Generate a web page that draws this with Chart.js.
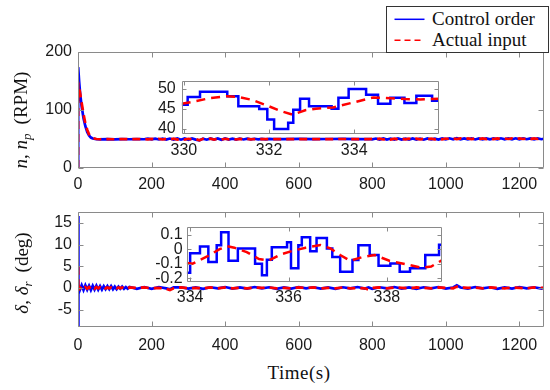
<!DOCTYPE html>
<html>
<head>
<meta charset="utf-8">
<script src="https://cdn.jsdelivr.net/npm/chart.js@4.4.1/dist/chart.umd.min.js"></script>
<style>
  body { margin: 0; background: #fff; }
  #wrap { position: relative; width: 550px; height: 390px; overflow: hidden; }
  canvas { position: absolute; }
  .ylab { position: absolute; white-space: nowrap; font: 19px 'Liberation Serif', 'Times New Roman', serif; color: #111;
          transform: translate(-50%, -50%) rotate(-90deg); }
  .ylab sub { font-size: 13px; vertical-align: -4px; line-height: 0; }
  .ylab .gap { display: inline-block; width: 9px; }
  #xlab { position: absolute; left: 299px; top: 373px; transform: translate(-50%, -50%);
          font: 19px 'Liberation Serif', 'Times New Roman', serif; color: #111; white-space: nowrap; letter-spacing: 0.5px; }
  #legend { position: absolute; left: 386px; top: 6px; width: 161px; height: 45px; border: 1px solid #333;
            background: #fff; font: 19px 'Liberation Serif', 'Times New Roman', serif; color: #111; }
  #legend span { position: absolute; left: 45px; line-height: 20px; white-space: nowrap; }
</style>
</head>
<body>
<div id="wrap">
  <canvas id="topMain" width="550" height="195" style="left:0;top:0"></canvas>
  <canvas id="botMain" width="550" height="165" style="left:0;top:195px"></canvas>
  <canvas id="topInset" width="310" height="95" style="left:140px;top:65px"></canvas>
  <canvas id="botInset" width="315" height="100" style="left:140px;top:213px"></canvas>

  <div id="legend">
    <svg width="161" height="45" style="position:absolute;left:0;top:0">
      <line x1="7.5" y1="12.3" x2="37.5" y2="12.3" stroke="#0000ff" stroke-width="1.5"/>
      <line x1="7.5" y1="33.3" x2="37.5" y2="33.3" stroke="#ff0000" stroke-width="1.5" stroke-dasharray="6,4"/>
    </svg>
    <span style="top:2px">Control order</span>
    <span style="top:23px">Actual input</span>
  </div>

  <div class="ylab" style="left:21px;top:120px"><i>n</i>, <i>n</i><sub><i>p</i></sub><span class="gap"></span>(RPM)</div>
  <div class="ylab" style="left:22px;top:273px"><i>δ</i>, <i>δ</i><sub><i>r</i></sub><span class="gap"></span>(deg)</div>
  <div id="xlab">Time(s)</div>
</div>

<script>
// ---- main plot, propeller speed ----
const topT = [0, 0.5, 3, 6, 10, 15, 20, 25, 30, 35, 40, 50, 60, 80, 100, 120, 140, 160,
  180, 190, 200, 210, 220, 230, 240, 250, 260, 270, 280, 290, 300, 310, 320, 330, 340, 350,
  360, 370, 380, 390, 400, 410, 420, 430, 440, 450, 460, 470, 480, 490, 500, 510, 520, 530,
  560, 600, 640, 680, 720, 760, 790,
  800, 810, 820, 830, 840, 850, 860, 870, 880, 890, 900, 910, 920, 930, 940, 950, 960, 970,
  980, 990, 1000, 1010, 1020, 1030, 1040, 1050, 1060, 1070, 1080, 1090, 1100, 1110, 1120,
  1130, 1140, 1150, 1160, 1170, 1180, 1190, 1200, 1210, 1220, 1230, 1240, 1250, 1260, 1267];
const topCmd = [0, 174, 150, 127, 106, 86, 72, 62, 56, 52.5, 50.8, 49.6, 49.4, 49.8, 49.5, 49.8, 49.6, 49.9,
  49.6, 50.5, 49.3, 50.6, 49.2, 50.5, 49.1, 50.8, 49.0, 50.9, 48.8, 51.0, 48.7, 50.8, 48.9, 47.5, 50.7, 48.8,
  51.1, 49.0, 50.9, 48.6, 51.0, 49.1, 50.6, 48.9, 50.8, 49.2, 50.5, 49.3, 50.4, 49.4, 50.3, 49.5, 50.2, 49.7,
  49.9, 50.1, 49.8, 50.0, 50.1, 49.9, 50.0,
  49.5, 50.8, 49.0, 51.0, 48.9, 50.8, 48.9, 51.0, 49.1, 50.7, 48.9, 50.9, 49.0, 50.8, 48.8, 51.0, 49.2, 50.7,
  49.0, 50.9, 49.3, 51.2, 49.5, 51.4, 49.6, 51.1, 49.4, 50.9, 49.2, 51.0, 49.4, 51.1, 49.3,
  50.9, 49.5, 51.2, 49.3, 51.0, 49.5, 51.2, 49.4, 51.0, 49.6, 51.1, 49.5, 50.9, 49.6, 50.5];
const topAct = [0, 146, 139, 128, 112, 93, 77, 66, 58, 54, 51.6, 50.0, 49.6, 49.7, 49.6, 49.7, 49.6, 49.8,
  49.8, 49.4, 50.2, 49.3, 50.3, 49.2, 50.4, 49.1, 50.5, 49.0, 50.5, 49.1, 50.4, 49.2, 50.2, 47.8, 50.3, 49.2,
  50.5, 49.1, 50.3, 49.1, 50.4, 49.3, 50.2, 49.2, 50.3, 49.4, 50.1, 49.5, 50.0, 49.6, 50.0, 49.7, 49.9, 49.8,
  49.8, 49.9, 49.8, 49.9, 50.0, 49.9, 49.9,
  50.2, 49.3, 50.5, 49.2, 50.6, 49.1, 50.5, 49.2, 50.6, 49.3, 50.5, 49.2, 50.6, 49.4, 50.5, 49.3, 50.6, 49.5,
  50.6, 49.4, 50.8, 49.7, 51.0, 49.9, 51.0, 49.8, 50.9, 49.7, 50.9, 49.8, 51.0, 49.7, 50.9,
  49.9, 51.0, 49.8, 50.9, 50.0, 51.0, 49.9, 51.0, 50.0, 50.9, 49.8, 51.0, 50.0, 50.9, 50.6];

// ---- main plot, rudder angle ----
const botT = [0, 0.3, 0.6, 1, 1.5, 2,
  5, 10, 15, 20, 25, 30, 35, 40, 45, 50, 55, 60, 65, 70, 75, 80, 85, 90, 95, 100, 105, 110, 115, 120,
  125, 130, 135, 140,
  160, 180, 200, 220, 240, 250, 260,
  280, 300, 320, 340, 360, 380, 400, 420, 440, 460, 480, 500, 520, 540, 560, 580, 600, 620, 640, 660,
  680, 700, 720, 740, 760, 780, 790,
  800, 820, 840, 860, 880, 900, 920, 940, 960, 980, 1000, 1020, 1030,
  1040, 1060, 1080, 1100, 1120, 1140, 1160, 1180, 1200, 1220, 1240, 1260, 1267];
const botCmd = [0, 16.6, -8.9, 3.2, -1.2, 0.7,
  -0.5, 0.6, -0.5, 0.6, -0.4, 0.5, -0.5, 0.5, -0.4, 0.5, -0.4, 0.4, -0.4, 0.4, -0.3, 0.4, -0.3, 0.4, -0.3, 0.3, -0.3, 0.3, -0.2, 0.3,
  -0.2, 0.2, -0.2, 0.2,
  -0.2, 0.2, -0.2, 0.2, -0.1, -0.3, 0.1,
  0.15, -0.15, 0.1, -0.2, 0.15, -0.1, 0.2, -0.15, 0.1, -0.15, 0.2, -0.1, 0.15, -0.2, 0.1, -0.15, 0.2, -0.1, 0.15, -0.15,
  0.1, -0.2, 0.15, -0.1, 0.2, -0.15, 0.1,
  -0.2, 0.15, -0.1, 0.2, -0.15, 0.1, -0.2, 0.15, -0.1, 0.2, -0.15, 0.1, 0.6,
  0.1, -0.15, 0.2, -0.1, 0.15, -0.2, 0.1, -0.15, 0.2, -0.1, 0.15, -0.15, 0.0];
const botAct = [0, 5.5, 3.0, -0.6, 0.4, 0.2,
  -0.2, 0.3, -0.2, 0.2, -0.2, 0.2, -0.2, 0.2, -0.2, 0.2, -0.1, 0.2, -0.1, 0.2, -0.1, 0.1, -0.1, 0.1, -0.1, 0.1, -0.1, 0.1, -0.1, 0.1,
  -0.1, 0.1, -0.1, 0.1,
  0.0, 0.1, -0.1, 0.0, -0.2, -0.5, -0.1,
  0.1, -0.1, 0.0, -0.1, 0.1, -0.1, 0.1, -0.1, 0.0, -0.1, 0.1, 0.0, 0.1, -0.1, 0.0, -0.1, 0.1, 0.0, 0.1, -0.1,
  0.0, -0.1, 0.1, -0.1, 0.0, -0.1, -0.4,
  0.0, 0.1, -0.1, 0.1, 0.0, -0.1, 0.1, 0.0, -0.1, 0.1, 0.0, -0.1, 0.3,
  0.1, 0.0, 0.1, -0.1, 0.1, 0.0, -0.1, 0.1, 0.0, -0.1, 0.1, 0.0, 0.0];

// ---- zoomed insets ----
const insTopCmdT = [329.95, 330.09, 330.38, 331.02, 331.28, 331.77, 331.96, 332.12, 332.45, 332.57, 332.73,
  332.94, 333.47, 333.63, 333.87, 334.28, 334.56, 334.85, 335.18, 335.46, 335.83, 336.0];
const insTopCmd = [46.0, 47.9, 49.2, 48.1, 45.6, 44.9, 42.3, 39.9, 41.5, 44.7, 47.5,
  45.6, 45.0, 47.7, 49.9, 48.5, 46.2, 47.7, 46.4, 48.2, 47.0, 47.0];
const insTopActT = [329.95, 330.3, 330.6, 331.0, 331.3, 331.6, 331.95, 332.25, 332.55, 332.85, 333.1,
  333.5, 334.0, 334.45, 334.85, 335.2, 335.55, 336.0];
const insTopAct = [46.2, 46.9, 47.6, 48.1, 47.9, 47.2, 45.8, 44.5, 43.5, 44.6, 45.0,
  45.3, 46.6, 47.8, 47.6, 47.4, 47.3, 47.5];

const insBotCmdT = [333.93, 334.0, 334.2, 334.37, 334.54, 334.63, 334.78, 334.97, 335.32, 335.46, 335.56,
  335.66, 335.97, 336.05, 336.2, 336.27, 336.44, 336.57, 336.78, 336.89, 337.05, 337.3, 337.42, 337.65,
  337.83, 338.07, 338.26, 338.47, 338.78, 339.06, 339.15];
const insBotCmd = [-0.163, -0.028, 0.019, -0.088, 0.026, 0.116, -0.079, 0.004, -0.101, -0.18, -0.073,
  0.013, 0.048, -0.131, 0.026, 0.082, -0.015, 0.077, 0.005, -0.054, -0.155, -0.074, 0.026, -0.04,
  -0.114, -0.099, -0.155, -0.131, -0.04, 0.03, 0.03];
const insBotActT = [333.93, 334.05, 334.2, 334.4, 334.6, 334.75, 334.9, 335.15, 335.4, 335.6, 335.85,
  336.1, 336.35, 336.65, 336.85, 337.05, 337.25, 337.5, 337.75, 338.05, 338.4, 338.7, 338.9, 339.15];
const insBotAct = [-0.095, -0.1, -0.075, -0.04, 0.0, 0.02, 0.01, -0.02, -0.068, -0.078, -0.035,
  -0.01, 0.01, 0.028, 0.005, -0.04, -0.08, -0.055, -0.04, -0.08, -0.105, -0.128, -0.12, -0.07];

Chart.defaults.font.family = "'Liberation Sans', Arial, sans-serif";
Chart.defaults.color = '#1a1a1a';

const pts = (xs, ys) => xs.map((x, i) => ({ x: x, y: ys[i] }));

// matlab style box with ticks pointing inward
const boxTicks = {
  id: 'boxTicks',
  beforeDraw(chart, args, opts) {
    if (!opts.fill) return;
    const a = chart.chartArea, ctx = chart.ctx;
    ctx.save();
    ctx.fillStyle = '#fff';
    ctx.fillRect(a.left, a.top, a.right - a.left, a.bottom - a.top);
    ctx.restore();
  },
  afterDraw(chart, args, opts) {
    const a = chart.chartArea, ctx = chart.ctx;
    const sx = chart.scales.x, sy = chart.scales.y;
    const len = opts.len || 5;
    const L = Math.round(a.left) + 0.5, R = Math.round(a.right) - 0.5;
    const T = Math.round(a.top) + 0.5, B = Math.round(a.bottom) - 0.5;
    ctx.save();
    ctx.strokeStyle = '#8a8a8a';
    ctx.lineWidth = 1;
    ctx.beginPath();
    sx.ticks.forEach(t => {
      const px = Math.round(sx.getPixelForValue(t.value)) + 0.5;
      ctx.moveTo(px, B); ctx.lineTo(px, B - len);
      ctx.moveTo(px, T); ctx.lineTo(px, T + len);
    });
    sy.ticks.forEach(t => {
      const py = Math.round(sy.getPixelForValue(t.value)) + 0.5;
      ctx.moveTo(L, py); ctx.lineTo(L + len, py);
      ctx.moveTo(R, py); ctx.lineTo(R - len, py);
    });
    ctx.rect(L, T, R - L, B - T);
    ctx.stroke();
    ctx.restore();
  }
};

function xAxis(min, max, step, h, pad, size) {
  return {
    type: 'linear', min: min, max: max,
    grid: { display: false, drawTicks: false }, border: { display: false },
    ticks: { stepSize: step, includeBounds: false, padding: pad, maxRotation: 0, autoSkip: false,
             font: { size: size }, callback: v => String(v) },
    afterFit: s => { s.height = h; }
  };
}
function yAxis(min, max, step, w, pad, size) {
  return {
    type: 'linear', min: min, max: max,
    grid: { display: false, drawTicks: false }, border: { display: false },
    ticks: { stepSize: step, includeBounds: false, padding: pad, autoSkip: false, font: { size: size } },
    afterFit: s => { s.width = w; }
  };
}

function makeChart(id, cmd, act, opt) {
  return new Chart(document.getElementById(id), {
    type: 'line',
    data: {
      datasets: [
        { label: 'Actual input', data: act, borderColor: '#ff0000', borderWidth: opt.lw,
          borderDash: opt.dash, pointRadius: 0, order: 1, stepped: false },
        { label: 'Control order', data: cmd, borderColor: '#0000ff', borderWidth: opt.lw,
          pointRadius: 0, order: 2, stepped: opt.stepped }
      ]
    },
    options: {
      responsive: false, animation: false, events: [],
      layout: { padding: opt.padding },
      scales: { x: opt.x, y: opt.y },
      plugins: { legend: { display: false }, tooltip: { enabled: false },
                 boxTicks: { fill: opt.fill, len: opt.len } }
    },
    plugins: [boxTicks]
  });
}

makeChart('topMain', pts(topT, topCmd), pts(topT, topAct), {
  lw: 2.7, dash: [8, 5], stepped: false, fill: false, len: 5,
  padding: { left: 0, top: 52, right: 6, bottom: 0 },
  x: xAxis(0, 1267, 200, 27, 7, 16),
  y: yAxis(0, 200, 100, 78, 6, 16)
});

makeChart('botMain', pts(botT, botCmd), pts(botT, botAct), {
  lw: 2.7, dash: [8, 5], stepped: false, fill: false, len: 5,
  padding: { left: 0, top: 17, right: 6, bottom: 0 },
  x: xAxis(0, 1267, 200, 33.5, 9, 16),
  y: yAxis(-8.9, 17.5, 5, 78, 6, 16)
});

makeChart('topInset', pts(insTopCmdT, insTopCmd), pts(insTopActT, insTopAct), {
  lw: 2.5, dash: [9, 6], stepped: true, fill: true, len: 4,
  padding: { left: 0, top: 10, right: 11.5, bottom: 0 },
  x: xAxis(329.95, 335.98, 2, 25.7, 7, 16),
  y: yAxis(38.6, 52, 5, 41.7, 6, 16)
});

makeChart('botInset', pts(insBotCmdT, insBotCmd), pts(insBotActT, insBotAct), {
  lw: 2.5, dash: [9, 6], stepped: true, fill: true, len: 4,
  padding: { left: 0, top: 10, right: 13, bottom: 0 },
  x: xAxis(333.93, 339.12, 2, 30.7, 6, 16),
  y: yAxis(-0.228, 0.155, 0.1, 46.7, 4, 16)
});
</script>
</body>
</html>
